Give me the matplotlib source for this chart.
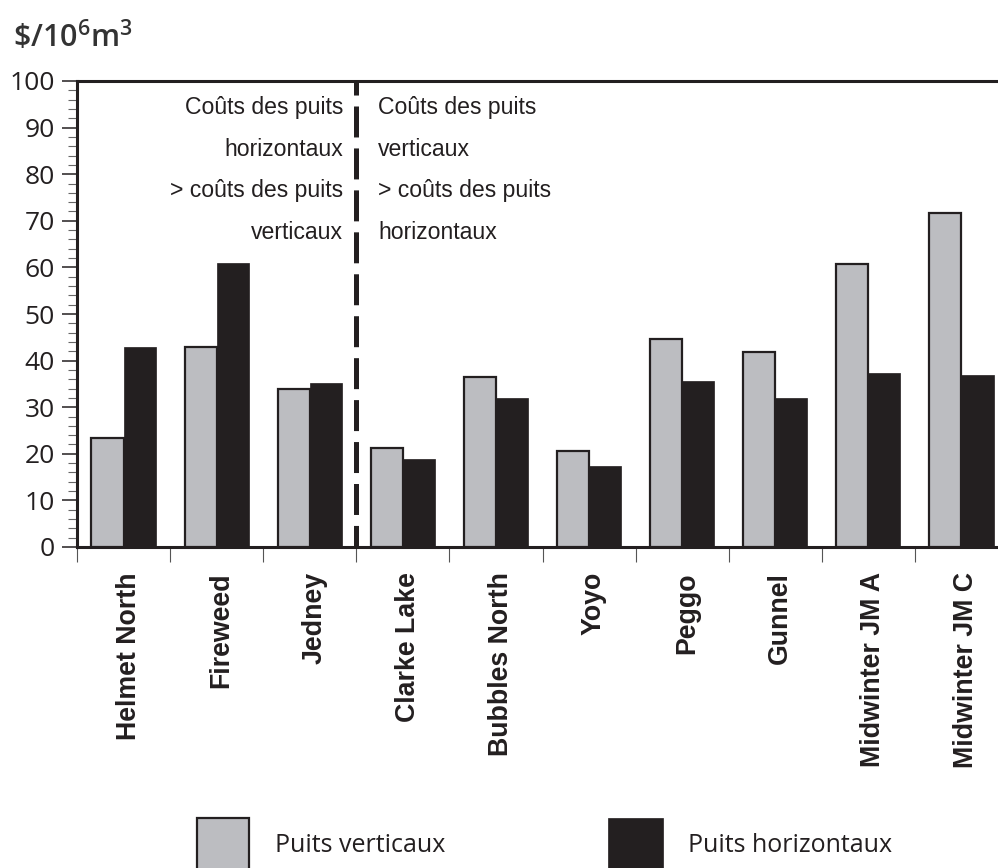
import numpy as np
import matplotlib.pyplot as plt
import matplotlib.transforms as mtransforms
from matplotlib.patches import Rectangle

# Valeurs ($/10^6 m3)
sites = ['Helmet North', 'Fireweed', 'Jedney', 'Clarke Lake', 'Bubbles North',
         'Yoyo', 'Peggo', 'Gunnel', 'Midwinter JM A', 'Midwinter JM C']
verticaux = [23.3, 43.0, 33.8, 21.3, 36.5, 20.7, 44.6, 41.8, 60.7, 71.7]
horizontaux = [42.9, 60.9, 35.3, 18.9, 31.9, 17.4, 35.6, 31.9, 37.3, 36.9]

texte_gauche = ['Coûts des puits', 'horizontaux', '> coûts des puits', 'verticaux']
texte_droite = ['Coûts des puits', 'verticaux', '> coûts des puits', 'horizontaux']

gris = '#bcbdc1'
noir = '#231f20'

plt.rcParams['lines.scale_dashes'] = False
plt.rcParams['mathtext.default'] = 'regular'

fig = plt.figure(figsize=(9.98, 8.68), dpi=100)
W, H = 998, 868
ax = fig.add_axes([77 / W, 321 / H, 931 / W, 466 / H])

x = np.arange(len(sites))
largeur = 0.345
ax.bar(x + 0.155, verticaux, width=largeur, align='edge', color=gris,
       edgecolor=noir, linewidth=1.6, zorder=3)
ax.bar(x + 0.5, horizontaux, width=largeur, align='edge', color=noir,
       edgecolor=noir, linewidth=0.5, zorder=3)

# ligne de séparation
ax.plot([3, 3], [100, 0], color=noir, linewidth=3.6,
        linestyle=(12.2, (22.3, 7.9)), dash_capstyle='butt', zorder=4,
        clip_on=False)

for k in range(4):
    y = 94.4 - 9.0 * k
    ax.text(2.857, y, texte_gauche[k], ha='right', va='center',
            fontsize=16.6, family='Liberation Sans', color=noir)
    ax.text(3.233, y, texte_droite[k], ha='left', va='center',
            fontsize=16.6, family='Liberation Sans', color=noir)

ax.set_xlim(0, 10)
ax.set_ylim(0, 100)

for s in ['left', 'bottom', 'top']:
    ax.spines[s].set_linewidth(2.2)
    ax.spines[s].set_color(noir)
ax.spines['right'].set_visible(False)

ax.set_yticks(np.arange(0, 101, 10))
ax.set_yticks(np.arange(0, 101, 2), minor=True)
ax.tick_params(axis='y', which='major', length=10.8, width=1.1, color=noir,
               pad=5, labelsize=19, labelcolor=noir)
ax.tick_params(axis='y', which='minor', length=6.5, width=0.8, color='#666666')
for lab in ax.get_yticklabels():
    lab.set_family('Open Sans')

ax.set_xticks(x + 0.5)
ax.set_xticklabels(sites, rotation=90, fontsize=19.3, fontweight='bold',
                   family='Liberation Sans', color=noir)
ax.set_xticks(np.arange(0, 11), minor=True)
ax.tick_params(axis='x', which='major', length=0, pad=18)
ax.tick_params(axis='x', which='minor', length=10.8, width=0.8, color='#555555')
decal = mtransforms.ScaledTranslation(5 / 100, 0, fig.dpi_scale_trans)
for lab in ax.get_xticklabels():
    lab.set_transform(lab.get_transform() + decal)

fig.text(13 / W, 1 - 47 / H, r'\$/10$^6$m$^3$', fontsize=22, fontweight='semibold',
         family='Open Sans', color='#333333', ha='left', va='baseline')

# légende
fig.patches.append(Rectangle((197 / W, 1 - 871 / H), 52 / W, 53 / H, facecolor=gris,
                             edgecolor=noir, linewidth=1.6, transform=fig.transFigure,
                             figure=fig))
fig.patches.append(Rectangle((608 / W, 1 - 871 / H), 55 / W, 53 / H, facecolor=noir,
                             edgecolor=noir, linewidth=0.5, transform=fig.transFigure,
                             figure=fig))
fig.text(275 / W, 1 - 845 / H, 'Puits verticaux', fontsize=18, family='Open Sans',
         color=noir, ha='left', va='center')
fig.text(688 / W, 1 - 845 / H, 'Puits horizontaux', fontsize=18, family='Open Sans',
         color=noir, ha='left', va='center')

fig.savefig('out.png', dpi=100)
